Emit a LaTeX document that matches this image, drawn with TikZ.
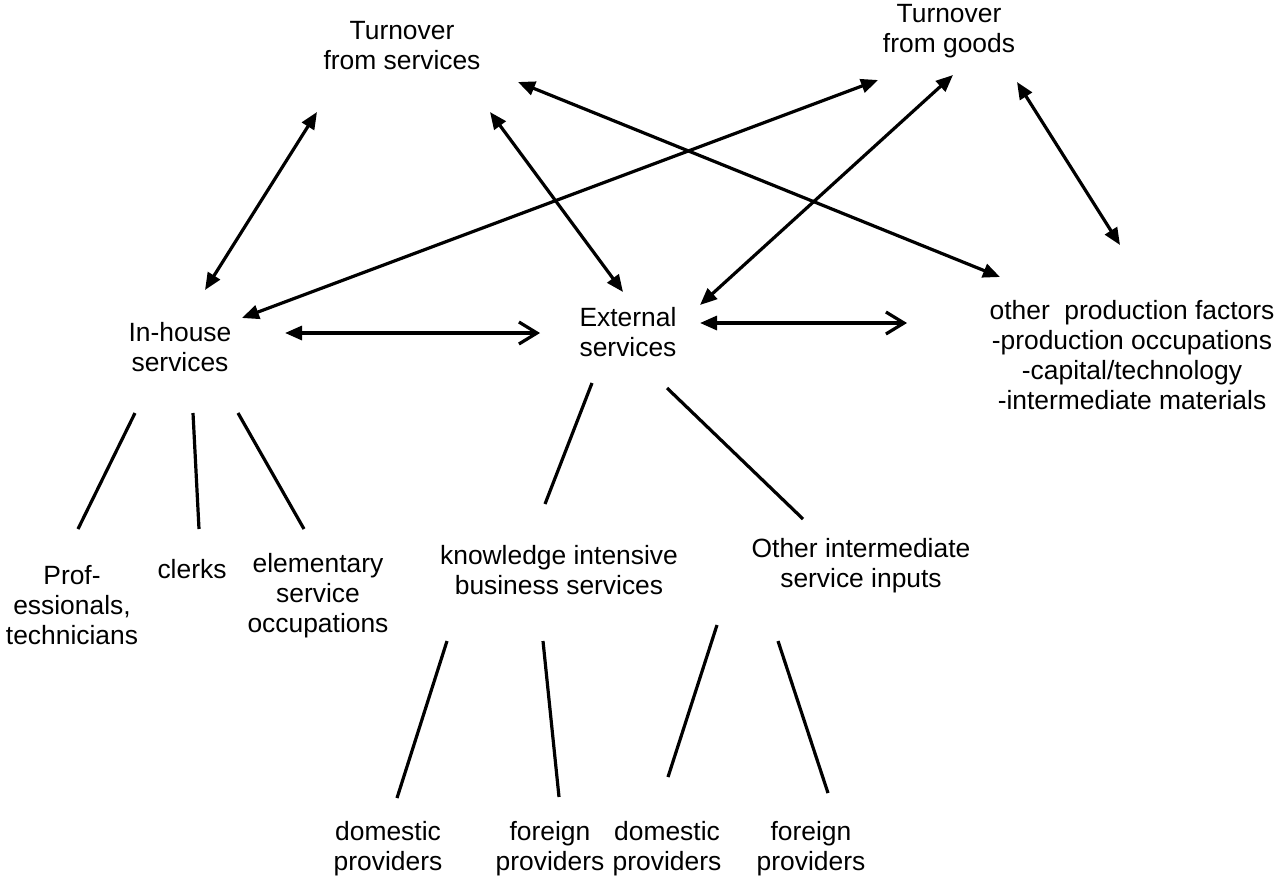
\documentclass[tikz,border=0pt]{standalone}
\usepackage{fontspec}
\setmainfont{Liberation Sans}
\usetikzlibrary{arrows.meta}
\begin{document}
\begin{tikzpicture}[x=1pt,y=-1pt,
 lbl/.style={align=center,font=\fontsize{26.4}{30}\selectfont,inner sep=0pt},
 ln/.style={line width=3.2pt},
 biar/.style={ln,{Triangle[length=17pt,width=14pt]}-{Triangle[length=17pt,width=14pt]}},
 mixar/.style={ln,{Triangle[length=17pt,width=14pt]}-{Straight Barb[length=18pt,width=22pt]}}]
\useasboundingbox (0,0) rectangle (1276,879);
% nodes
\node[lbl] (ts) at (402,46) {Turnover\\from services};
\node[lbl] (tg) at (949,31) {Turnover\\from goods};
\node[lbl] (ih) at (180,347) {In-house\\services};
\node[lbl] (ext) at (628,332) {External\\services};
\node[lbl] (opf) at (1132,355) {other\ \ production factors\\-production occupations\\-capital/technology\\-intermediate materials};
\node[lbl] (prof) at (72,605) {Prof-\\essionals,\\technicians};
\node[lbl] (clerks) at (192,569) {clerks};
\node[lbl] (elem) at (318,596) {elementary\\service\\occupations};
\node[lbl] (kibs) at (559,570) {knowledge intensive\\business services};
\node[lbl] (oisi) at (861,566) {Other intermediate\\service inputs};
\node[lbl] (d1) at (388,849) {domestic\\providers};
\node[lbl] (f1) at (550,849) {foreign\\providers};
\node[lbl] (d2) at (667,849) {domestic\\providers};
\node[lbl] (f2) at (811,849) {foreign\\providers};
% arrow end points
\coordinate (ihA) at (205,290); \coordinate (tsA) at (317,112);
\coordinate (extA) at (623,292); \coordinate (tsB) at (490,112);
\coordinate (tsC) at (518,82); \coordinate (opfA) at (1000,277);
\coordinate (ihB) at (242,318); \coordinate (tgA) at (878,80);
\coordinate (extB) at (700,305); \coordinate (tgB) at (953,75);
\coordinate (tgC) at (1017,82); \coordinate (opfB) at (1120,245);
\coordinate (ihC) at (285,333); \coordinate (extC) at (540,333);
\coordinate (extD) at (700,323); \coordinate (opfC) at (907,323);
\draw[biar] (ihA) -- (tsA);
\draw[biar] (extA) -- (tsB);
\draw[biar] (tsC) -- (opfA);
\draw[biar] (ihB) -- (tgA);
\draw[biar] (extB) -- (tgB);
\draw[biar] (tgC) -- (opfB);
\draw[mixar] (ihC) -- (extC);
\draw[mixar] (extD) -- (opfC);
% tree line end points
\coordinate (ihP) at (135,413); \coordinate (profT) at (78,529);
\coordinate (ihQ) at (193,413); \coordinate (clerksT) at (199,529);
\coordinate (ihR) at (238,413); \coordinate (elemT) at (304,529);
\coordinate (extP) at (592,383); \coordinate (kibsT) at (545,504);
\coordinate (extQ) at (667,388); \coordinate (oisiT) at (803,519);
\coordinate (kibsP) at (447,641); \coordinate (d1T) at (397,798);
\coordinate (kibsQ) at (543,641); \coordinate (f1T) at (559,797);
\coordinate (oisiP) at (717,625); \coordinate (d2T) at (668,777);
\coordinate (oisiQ) at (778,641); \coordinate (f2T) at (828,793);
\draw[ln] (ihP) -- (profT);
\draw[ln] (ihQ) -- (clerksT);
\draw[ln] (ihR) -- (elemT);
\draw[ln] (extP) -- (kibsT);
\draw[ln] (extQ) -- (oisiT);
\draw[ln] (kibsP) -- (d1T);
\draw[ln] (kibsQ) -- (f1T);
\draw[ln] (oisiP) -- (d2T);
\draw[ln] (oisiQ) -- (f2T);
\end{tikzpicture}
\end{document}
